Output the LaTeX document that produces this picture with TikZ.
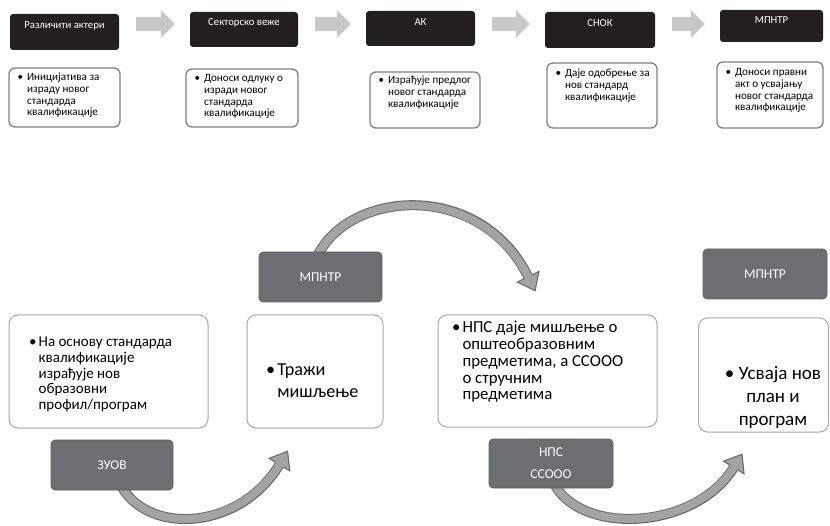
\documentclass[tikz,border=0pt]{standalone}
\usepackage{fontspec}
\setmainfont{Carlito}
\usetikzlibrary{arrows.meta,calc}
\definecolor{blk}{HTML}{231F20}
\definecolor{gbox}{HTML}{6D6E71}
\definecolor{barr}{HTML}{C8C8C8}
\definecolor{carr}{HTML}{A3A3A3}
\definecolor{cedge}{HTML}{666666}
\definecolor{wedgeA}{HTML}{808080}
\definecolor{wedgeB}{HTML}{A8A8A8}
\pgfdeclarelayer{bg}
\pgfsetlayers{bg,main}
\newcommand\bl[1]{\textbullet\hspace{4pt}\begin{tabular}[t]{@{}l@{}}#1\end{tabular}}
\newcommand\bltight[1]{\textbullet\hspace{2pt}\begin{tabular}[t]{@{}l@{}}#1\end{tabular}}
\newcommand\bendarrow[4]{%
  \draw[line width=10pt, cedge, -{Triangle[length=17pt,width=26pt,line width=1pt,fill=carr]}] #1 .. controls #2 and #3 .. #4;
  \draw[line width=8pt, carr, shorten >=15.5pt] #1 .. controls #2 and #3 .. #4;}
\begin{document}
\begin{tikzpicture}[x=1pt,y=-1pt,
  hdr/.style={fill=blk, draw=none, rounded corners=3pt, inner sep=0pt},
  hdrtxt/.style={text=white, font=\fontsize{10.7}{12}\selectfont, inner sep=0pt},
  wtop/.style={draw=wedgeA, line width=1.3pt, fill=white, rounded corners=6pt, inner sep=0pt},
  toptxt/.style={font=\fontsize{11.1}{11.7}\selectfont, inner sep=0pt, anchor=north west},
  gb/.style={fill=gbox, draw=gbox!85!black, line width=0.6pt, rounded corners=4pt, inner sep=0pt, text=white, font=\fontsize{13.5}{14}\selectfont, align=center},
  wbot/.style={draw=wedgeB, line width=1pt, fill=white, rounded corners=9pt, inner sep=0pt},
  blockarrow/.style={line width=14pt, barr, -{Triangle[length=14pt,width=28pt,line width=0pt]}, shorten <=17pt, shorten >=15pt}
]
\useasboundingbox (0,0) rectangle (830,526);

% top row headers
\node[hdr, minimum width=109pt, minimum height=36pt] (b1) at (64.5,32) {};
\node[hdr, minimum width=108pt, minimum height=35pt] (b2) at (244,29.5) {};
\node[hdr, minimum width=109pt, minimum height=35pt] (b3) at (420.5,28.5) {};
\node[hdr, minimum width=110pt, minimum height=36pt] (b4) at (600,30) {};
\node[hdr, minimum width=103pt, minimum height=32pt] (b5) at (771.5,26) {};
\node[hdrtxt] (h1) at ([yshift=-12pt]b1.north) {Различити актери};
\node[hdrtxt] (h2) at ([yshift=-11.5pt]b2.north) {Секторско веже};
\node[hdrtxt] (h3) at ([yshift=-11.5pt]b3.north) {АК};
\node[hdrtxt] (h4) at ([yshift=-11.5pt]b4.north) {СНОК};
\node[hdrtxt] (h5) at ([yshift=-10.5pt]b5.north) {МПНТР};

% top row description boxes
\node[wtop, minimum width=111pt, minimum height=59pt] (w1) at (64.5,97.5) {};
\node[wtop, minimum width=112pt, minimum height=58pt] (w2) at (242,98) {};
\node[wtop, minimum width=110pt, minimum height=56pt] (w3) at (425,100) {};
\node[wtop, minimum width=110pt, minimum height=65pt] (w4) at (602,95.5) {};
\node[wtop, minimum width=106pt, minimum height=66pt] (w5) at (770,95) {};
\node[toptxt] (d1) at ([xshift=9pt,yshift=-5pt]w1.north west) {\bl{Иницијатива за\\израду новог\\стандарда\\квалификације}};
\node[toptxt] (d2) at ([xshift=9pt,yshift=-5pt]w2.north west) {\bl{Доноси одлуку о\\изради новог\\стандарда\\квалификације}};
\node[toptxt] (d3) at ([xshift=9pt,yshift=-4pt]w3.north west) {\bl{Израђује предлог\\новог стандарда\\квалификације}};
\node[toptxt] (d4) at ([xshift=9pt,yshift=-6pt]w4.north west) {\bl{Даје одобрење за\\нов стандард\\квалификације}};
\node[toptxt] (d5) at ([xshift=9pt,yshift=-6pt]w5.north west) {\bl{Доноси правни\\акт о усвајању\\новог стандарда\\квалификације}};

% block arrows between headers
\coordinate (ay) at (0,24);
\draw[blockarrow] (b1.east |- ay) -- (b2.west |- ay);
\draw[blockarrow] (b2.east |- ay) -- (b3.west |- ay);
\draw[blockarrow] (b3.east |- ay) -- (b4.west |- ay);
\draw[blockarrow] (b4.east |- ay) -- (b5.west |- ay);

% bottom: gray actor boxes
\node[gb, minimum width=123pt, minimum height=50pt] (g1) at (320.5,277) {МПНТР};
\node[gb, minimum width=124pt, minimum height=50pt] (g2) at (765,274) {МПНТР};
\node[gb, minimum width=122pt, minimum height=50pt] (g3) at (112,465) {ЗУОВ};
\node[gb, minimum width=124pt, minimum height=49pt] (g4) at (551,463.5) {НПС\\[8pt]ССООО};

% bottom: white step boxes
\node[wbot, minimum width=199pt, minimum height=113pt] (c1) at (108.5,371.5) {};
\node[wbot, minimum width=136pt, minimum height=113pt] (c2) at (315,371.5) {};
\node[wbot, minimum width=219pt, minimum height=112pt] (c3) at (547.5,371) {};
\node[wbot, minimum width=130pt, minimum height=114pt] (c4) at (763.5,375) {};

\node[inner sep=0pt, anchor=west, font=\fontsize{15}{15.8}\selectfont] (e1) at (29,375) {\bltight{На основу стандарда\\квалификације\\израђује нов\\образовни\\профил/програм}};
\node[inner sep=0pt, anchor=west, font=\fontsize{18.2}{22.5}\selectfont] (e2) at (266,382) {\bltight{Тражи\\мишљење}};
\node[inner sep=0pt, anchor=west, font=\fontsize{16.8}{16.8}\selectfont] (e3) at (452,363) {\bltight{НПС даје мишљење о\\општеобразовним\\предметима, а ССООО\\о стручним\\предметима}};
\node[inner sep=0pt, align=center, font=\fontsize{19}{23}\selectfont] (e4) at (773,397) {\textbullet\ Усваја нов\\план и\\програм};

% curved arrows (behind boxes)
\begin{pgfonlayer}{bg}
\bendarrow{([xshift=10pt,yshift=3pt]g3.south)}{(150,535)}{(240,530)}{([xshift=-27pt,yshift=-22pt]c2.south)}
\bendarrow{([xshift=-3pt,yshift=-4pt]g1.north)}{(350,190)}{(480,180)}{([xshift=-12pt,yshift=23pt]c3.north)}
\bendarrow{([xshift=4pt,yshift=3pt]g4.south)}{(583,535)}{(695,530)}{([xshift=-21pt,yshift=-21pt]c4.south)}
\end{pgfonlayer}
\end{tikzpicture}
\end{document}
